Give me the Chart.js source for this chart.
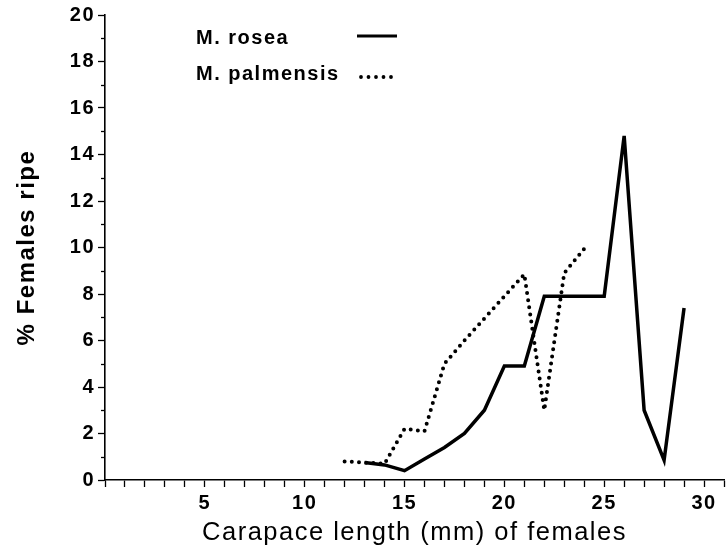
<!DOCTYPE html>
<html><head><meta charset="utf-8">
<script src="https://cdn.jsdelivr.net/npm/chart.js@4"></script>
<style>html,body{margin:0;padding:0;background:#fff}#wrap{width:728px;height:548px;position:relative}</style>
</head><body><div id="wrap"><canvas id="c" width="728" height="548"></canvas></div>
<script>
const seriesNames = ['M. rosea', 'M. palmensis'];
const roseaLengths = [13, 14, 15, 16, 17, 18, 19, 20, 21, 22, 23, 24, 25, 26, 27, 28, 29];
const roseaRipe    = [0.75, 0.65, 0.4, 0.9, 1.4, 2.0, 3.0, 4.9, 4.9, 7.9, 7.9, 7.9, 7.9, 14.8, 3.0, 0.85, 7.4];
const palmensisLengths = [12, 13, 14, 15, 16, 17, 18, 19, 20, 21, 22, 23, 24];
const palmensisRipe    = [0.8, 0.75, 0.7, 2.2, 2.1, 5.0, 6.0, 6.95, 7.9, 8.85, 3.0, 8.9, 9.95];
const xTickLabels = [5, 10, 15, 20, 25, 30];
const yTickLabels = [0, 2, 4, 6, 8, 10, 12, 14, 16, 18, 20];
const xTitle = 'Carapace length (mm) of females';
const yTitle = '% Females ripe';

const toPoints = (xs, ys) => xs.map((x, i) => ({x: x, y: ys[i]}));

const spacingPlugin = {
  id: 'spacing',
  beforeDraw(chart) { chart.ctx.letterSpacing = '1.5px'; }
};

const minorTicks = {
  id: 'minorTicks',
  afterDraw(chart) {
    const ys = chart.scales.y, ctx = chart.ctx;
    ctx.save();
    ctx.strokeStyle = '#000';
    ctx.lineWidth = 1.3;
    for (let v = 1; v < 20; v += 2) {
      const p = Math.round(ys.getPixelForValue(v)) + 0.5;
      ctx.beginPath();
      ctx.moveTo(ys.right - 4, p);
      ctx.lineTo(ys.right, p);
      ctx.stroke();
    }
    ctx.restore();
  }
};

const legendPlugin = {
  id: 'customLegend',
  afterDraw(chart) {
    const ctx = chart.ctx;
    ctx.save();
    ctx.fillStyle = '#000';
    ctx.font = 'bold 20px "Liberation Sans", Arial, sans-serif';
    ctx.textBaseline = 'alphabetic';
    ctx.fillText(seriesNames[0], 196, 44);
    ctx.fillText(seriesNames[1], 196, 80);
    ctx.strokeStyle = '#000';
    ctx.lineWidth = 3;
    ctx.beginPath(); ctx.moveTo(357, 36); ctx.lineTo(397, 36); ctx.stroke();
    ctx.lineWidth = 3.8;
    ctx.lineCap = 'round';
    ctx.setLineDash([0, 7.5]);
    ctx.beginPath(); ctx.moveTo(361, 77); ctx.lineTo(394, 77); ctx.stroke();
    ctx.restore();
  }
};

const tickFont = {family: '"Liberation Sans", Arial, sans-serif', weight: 'bold', size: 20};

new Chart(document.getElementById('c'), {
  type: 'line',
  data: {
    datasets: [
      {
        label: seriesNames[0],
        data: toPoints(roseaLengths, roseaRipe),
        borderColor: '#000',
        borderWidth: 3.5,
        pointRadius: 0,
        tension: 0,
        borderJoinStyle: 'miter',
        fill: false
      },
      {
        label: seriesNames[1],
        data: toPoints(palmensisLengths, palmensisRipe),
        borderColor: '#000',
        borderWidth: 4,
        borderDash: [0, 7.2],
        borderCapStyle: 'round',
        pointRadius: 0,
        tension: 0,
        fill: false
      }
    ]
  },
  options: {
    responsive: false,
    devicePixelRatio: 1,
    animation: false,
    layout: {padding: {top: 15, right: 0, bottom: 0, left: 0}},
    plugins: {legend: {display: false}, tooltip: {enabled: false}},
    scales: {
      x: {
        type: 'linear', min: 0, max: 31,
        ticks: {
          stepSize: 1, autoSkip: false, maxRotation: 0, color: '#000', padding: 4,
          font: tickFont,
          callback: v => xTickLabels.includes(v) ? String(v) : ''
        },
        grid: {drawOnChartArea: false, drawTicks: true, tickLength: 7, tickColor: '#000', tickWidth: 1.3},
        border: {color: '#000', width: 1.6},
        title: {display: true, text: xTitle, color: '#000',
          font: {family: '"Liberation Sans", Arial, sans-serif', size: 25.5, lineHeight: 1.2}, padding: 0},
        afterFit: s => { s.height = 68; }
      },
      y: {
        type: 'linear', min: 0, max: 20,
        ticks: {
          stepSize: 1, autoSkip: false, color: '#000', padding: 3,
          font: tickFont,
          callback: v => yTickLabels.includes(v) ? String(v) : ''
        },
        grid: {drawOnChartArea: false, drawTicks: true, tickLength: 7, tickWidth: 1.3,
          tickColor: c => (c.tick && yTickLabels.includes(c.tick.value)) ? '#000' : 'rgba(0,0,0,0)'},
        border: {color: '#000', width: 1.6},
        title: {display: true, text: yTitle, color: '#000',
          font: {family: '"Liberation Sans", Arial, sans-serif', weight: 'bold', size: 24, lineHeight: 2.25}, padding: 0},
        afterFit: s => { s.width = 105; }
      }
    }
  },
  plugins: [spacingPlugin, minorTicks, legendPlugin]
});
</script>
</body></html>
